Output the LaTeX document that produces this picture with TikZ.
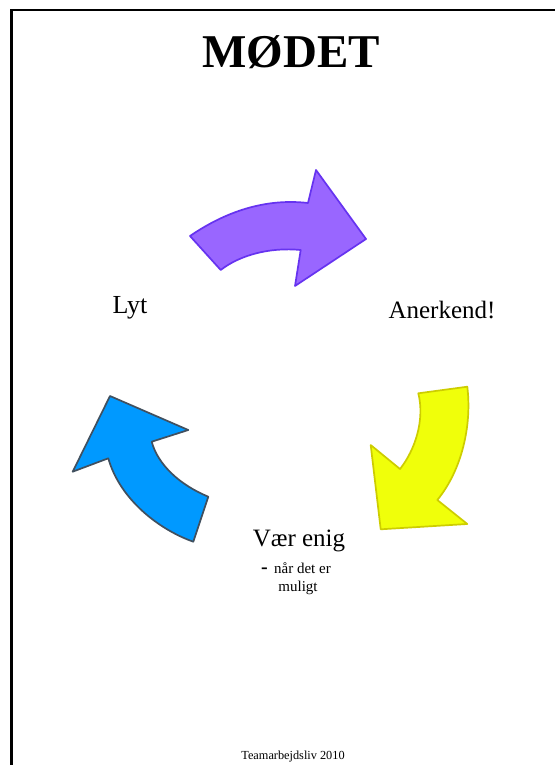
\documentclass[tikz,border=0pt]{standalone}
\usepackage{fontspec}
\setmainfont{Liberation Serif}
\definecolor{purpfill}{RGB}{153,102,255}
\definecolor{purpline}{RGB}{102,51,240}
\definecolor{yelfill}{RGB}{240,255,10}
\definecolor{yelline}{RGB}{205,205,0}
\definecolor{bluefill}{RGB}{0,153,255}
\definecolor{blueline}{RGB}{65,80,95}
\tikzset{
  lbl/.style={inner sep=0pt, anchor=base, text=black},
  arrowshape/.style={line width=1.7pt, line join=round},
}
\begin{document}
\begin{tikzpicture}[x=1pt,y=-1pt]
\useasboundingbox (0,0) rectangle (555,765);
\fill[white] (0,0) rectangle (555,765);
% page frame
\draw[line width=2.2pt] (11.5,765) -- (11.5,10) -- (555,10);
% title
\node[lbl] (title) at (291,68) {\fontsize{47}{56}\selectfont\bfseries MØDET};
% purple arrow
\draw[arrowshape, draw=purpline, fill=purpfill]
  (220.7,270) -- (190,236)
  .. controls (225,212) and (265,198) .. (308,203)
  -- (316,170) -- (366,239) -- (295,286) -- (300.7,250)
  .. controls (270,247) and (240,255) .. (220.7,270) -- cycle;
% yellow arrow
\draw[arrowshape, draw=yelline, fill=yelfill]
  (418.3,393.3) -- (467.3,386.7)
  .. controls (472,425) and (462,470) .. (437.3,500)
  -- (467.3,524) -- (380.7,529.3) -- (370.7,445) -- (400,469)
  .. controls (415,450) and (425,420) .. (418.3,393.3) -- cycle;
% blue arrow
\draw[arrowshape, draw=blueline, fill=bluefill]
  (110,396) -- (188.3,430) -- (151.7,441.7)
  .. controls (158,465) and (180,485) .. (208.3,496.7)
  -- (193.3,541.7)
  .. controls (160,530) and (120,500) .. (108.3,458.3)
  -- (72.7,471.7) -- cycle;
% labels
\node[lbl] (lyt) at (130,313) {\fontsize{26}{30}\selectfont Lyt};
\node[lbl] (anerkend) at (442,318) {\fontsize{25}{30}\selectfont Anerkend!};
\node[lbl] (vaer) at (299,546) {\fontsize{25}{30}\selectfont Vær enig};
\node[lbl] (naar) at (296,573) {\fontsize{15}{18}\selectfont {\fontsize{20}{20}\selectfont\bfseries -}\, når det er};
\node[lbl] (muligt) at (298,591) {\fontsize{15}{18}\selectfont muligt};
\node[lbl] (footer) at (293,759) {\fontsize{12.3}{14}\selectfont Teamarbejdsliv 2010};
\end{tikzpicture}
\end{document}
